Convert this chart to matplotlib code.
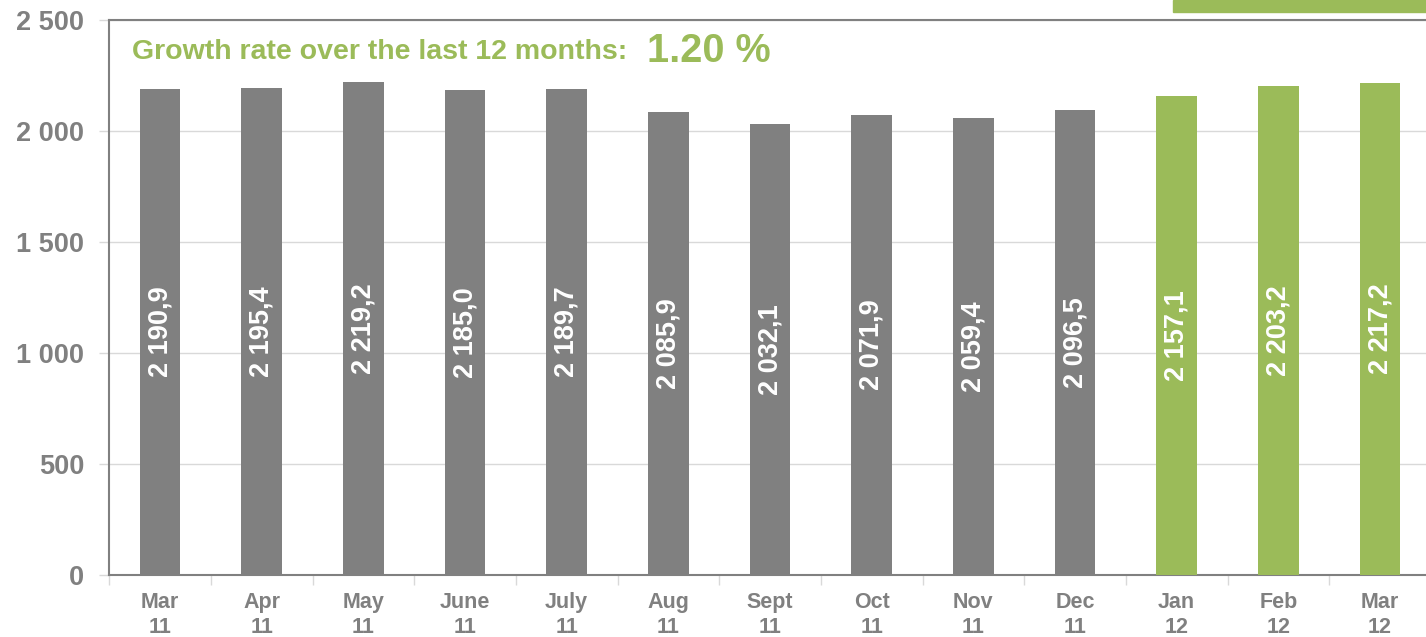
import matplotlib.pyplot as plt
from matplotlib.patches import Rectangle

# data
months = ['Mar\n11', 'Apr\n11', 'May\n11', 'June\n11', 'July\n11', 'Aug\n11', 'Sept\n11',
          'Oct\n11', 'Nov\n11', 'Dec\n11', 'Jan\n12', 'Feb\n12', 'Mar\n12']
values = [2190.9, 2195.4, 2219.2, 2185.0, 2189.7, 2085.9, 2032.1,
          2071.9, 2059.4, 2096.5, 2157.1, 2203.2, 2217.2]
is_new = [False] * 10 + [True] * 3
growth_rate = '1.20 %'

GRAY = '#808080'
GREEN = '#9BBB59'
plt.rcParams['font.family'] = ['Liberation Sans', 'DejaVu Sans']

fig = plt.figure(figsize=(14.26, 6.37), dpi=100)
W, H = 1426, 637
ax = fig.add_axes([109.2 / W, (H - 575) / H, 1321.7 / W, 555 / H])

x = range(len(values))
colors = [GREEN if g else GRAY for g in is_new]
ax.bar(x, values, width=0.4, color=colors, zorder=3)

def fmt(v):
    s = f'{v:,.1f}'
    return s.replace(',', ' ').replace('.', ',')

for i, v in enumerate(values):
    ax.text(i, v / 2, fmt(v), rotation=90, ha='center', va='center',
            color='white', fontsize=19.5, fontweight='bold', zorder=4)

ax.set_xlim(-0.5, len(values) - 0.5)
ax.set_ylim(0, 2500)
ax.set_yticks(range(0, 2501, 500))
ax.set_yticklabels([f'{t:,}'.replace(',', ' ') for t in range(0, 2501, 500)])
ax.grid(axis='y', color='#D9D9D9', linewidth=1, zorder=0)

ax.set_xticks(list(x))
ax.set_xticklabels(months)
ax.set_xticks([i - 0.5 for i in range(len(values) + 1)], minor=True)
ax.tick_params(axis='x', which='major', length=0, pad=12, labelsize=15.5, labelcolor=GRAY)
ax.tick_params(axis='x', which='minor', length=7, color='#D9D9D9', width=1)
ax.tick_params(axis='y', length=7, color='#D9D9D9', width=1, pad=11, labelsize=19.5, labelcolor=GRAY)
for lab in ax.get_xticklabels() + ax.get_yticklabels():
    lab.set_fontweight('bold')
for lab in ax.get_xticklabels():
    lab.set_linespacing(1.3)

for s in ax.spines.values():
    s.set_color(GRAY)
    s.set_linewidth(1.5)

fig.text(132 / W, 1 - 59 / H, 'Growth rate over the last 12 months: ',
         color=GREEN, fontsize=20.5, fontweight='bold', va='baseline', ha='left')
fig.text(647 / W, 1 - 62 / H, growth_rate,
         color=GREEN, fontsize=28.5, fontweight='bold', va='baseline', ha='left')

fig.patches.append(Rectangle((1173 / W, 1 - 12 / H), (W - 1173) / W, 12 / H,
                             transform=fig.transFigure, color=GREEN, zorder=5))

fig.savefig('out.png', dpi=100)
